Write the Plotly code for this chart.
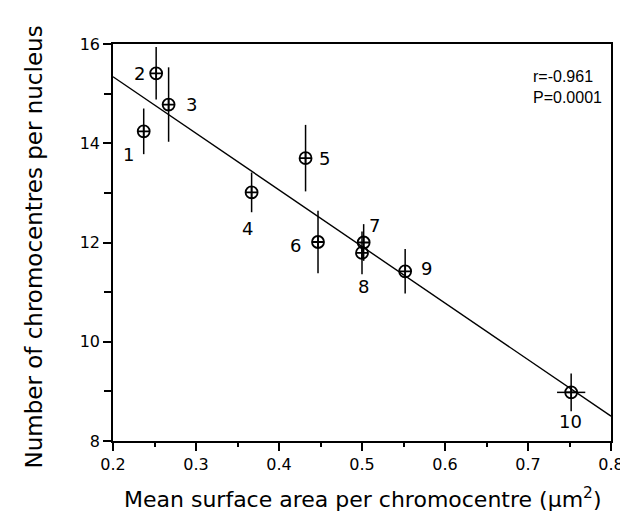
import plotly.graph_objects as go

# Data
labels = ["1", "2", "3", "4", "5", "6", "7", "8", "9", "10"]
area = [0.237, 0.252, 0.267, 0.367, 0.432, 0.447, 0.502, 0.500, 0.552, 0.752]
chromocentres = [14.24, 15.41, 14.78, 13.01, 13.70, 12.01, 12.00, 11.79, 11.42, 8.98]
err_y = [0.46, 0.53, 0.75, 0.40, 0.67, 0.63, 0.37, 0.43, 0.45, 0.38]
err_x = [0, 0, 0, 0, 0, 0, 0, 0, 0, 0.017]

fit_slope = -11.4
fit_intercept = 17.62
fit_x = [0.2, 0.8]

x_ticks = [0.2, 0.3, 0.4, 0.5, 0.6, 0.7, 0.8]
y_ticks = [8, 10, 12, 14, 16]

stats_text = "r=-0.961<br>P=0.0001"

# label offsets in px (styling)
label_dx = [-15, -17, 23, -4, 19, -23, 11, 1, 21, -1]
label_dy = [23, 0, 0, 36, 0, 3, -17, 34, -3, 29]

FONT = "DejaVu Sans"

fig = go.Figure()

fit_y = [fit_intercept + fit_slope * v for v in fit_x]
fig.add_trace(go.Scatter(
    x=fit_x, y=fit_y, mode="lines",
    line=dict(color="black", width=1.4),
    hoverinfo="skip", showlegend=False,
))

fig.add_trace(go.Scatter(
    x=area, y=chromocentres, mode="markers",
    marker=dict(symbol="circle-cross-open", size=12, color="black",
                line=dict(color="black", width=1.8)),
    error_y=dict(type="data", array=err_y, color="black", thickness=1.5, width=0),
    error_x=dict(type="data", array=err_x, color="black", thickness=1.5, width=0),
    showlegend=False,
))

annotations = []
for lab, xv, yv, dx, dy in zip(labels, area, chromocentres, label_dx, label_dy):
    annotations.append(dict(
        x=xv, y=yv, xref="x", yref="y", text=lab, showarrow=False,
        xshift=dx, yshift=-dy, font=dict(family=FONT, size=18, color="black"),
    ))

annotations.append(dict(
    x=0.839, y=0.892, xref="paper", yref="paper", text=stats_text,
    showarrow=False, xanchor="left", yanchor="middle", align="left",
    font=dict(family="Liberation Sans", size=16, color="black"),
))

annotations.append(dict(
    x=0.5, y=0, xref="paper", yref="paper",
    text="Mean surface area per chromocentre (μm<sup>2</sup>)",
    showarrow=False, xanchor="center", yanchor="middle", yshift=-57,
    font=dict(family=FONT, size=22, color="black"),
))
annotations.append(dict(
    x=0, y=0.5, xref="paper", yref="paper",
    text="Number of chromocentres per nucleus", textangle=-90,
    showarrow=False, xanchor="center", yanchor="middle", xshift=-80, yshift=-5,
    font=dict(family=FONT, size=23, color="black"),
))

fig.update_layout(
    width=628, height=512,
    margin=dict(l=105, r=13, t=36, b=79),
    paper_bgcolor="white", plot_bgcolor="white",
    annotations=annotations,
    showlegend=False,
    xaxis=dict(
        range=[0.2, 0.8], tickvals=x_ticks, ticktext=[f"{v:.1f}" for v in x_ticks],
        showgrid=False, zeroline=False, showline=True, linecolor="black", linewidth=1.5,
        mirror=True, ticks="outside", ticklen=8, tickwidth=1.5, tickcolor="black",
        minor=dict(dtick=0.05, tick0=0.2, ticks="outside", ticklen=4, tickwidth=1.5,
                   tickcolor="black", showgrid=False),
        tickfont=dict(family=FONT, size=16, color="black"),
    ),
    yaxis=dict(
        range=[8, 16], tickvals=y_ticks, ticktext=[str(v) for v in y_ticks],
        showgrid=False, zeroline=False, showline=True, linecolor="black", linewidth=1.5,
        mirror=True, ticks="outside", ticklen=8, tickwidth=1.5, tickcolor="black",
        minor=dict(dtick=1, tick0=8, ticks="outside", ticklen=7, tickwidth=1.5,
                   tickcolor="black", showgrid=False),
        tickfont=dict(family=FONT, size=16, color="black"),
    ),
)

fig.write_html("out.html")
